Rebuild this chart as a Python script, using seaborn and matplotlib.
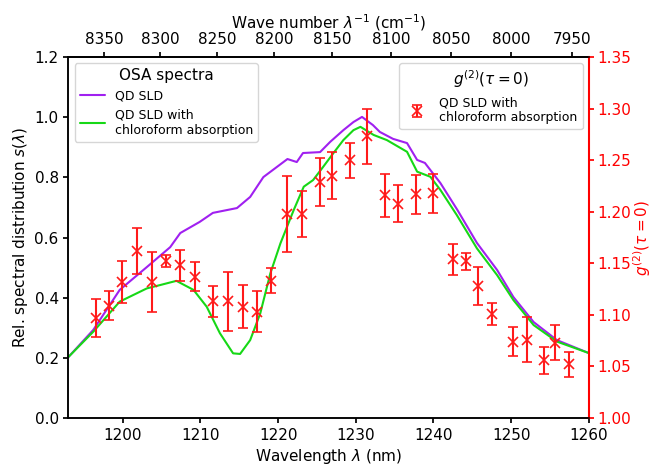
import numpy as np
import pandas as pd
import matplotlib
matplotlib.use("Agg")
import matplotlib.pyplot as plt
import seaborn as sns

# OSA spectra (wavelength in nm, relative intensity)
sld_wl = [1193.0, 1196.2, 1199.6, 1203.1, 1206.1, 1207.4, 1209.9, 1211.6, 1214.7,
          1216.4, 1218.1, 1221.2, 1222.4, 1223.2, 1225.4, 1226.7, 1228.4, 1229.7,
          1230.8, 1232.2, 1233.1, 1234.8, 1236.6, 1237.9, 1238.9, 1240.9, 1243.1,
          1245.6, 1248.2, 1250.3, 1252.9, 1255.9, 1260.0]
sld_s = [0.203, 0.293, 0.426, 0.502, 0.568, 0.615, 0.652, 0.682, 0.698,
         0.735, 0.801, 0.861, 0.851, 0.881, 0.884, 0.918, 0.957, 0.984,
         1.001, 0.974, 0.951, 0.928, 0.914, 0.858, 0.848, 0.781, 0.691,
         0.582, 0.492, 0.402, 0.319, 0.259, 0.216]

chl_wl = [1193.0, 1196.2, 1199.6, 1203.1, 1204.8, 1206.9, 1209.1, 1210.8, 1212.5,
          1214.2, 1215.1, 1216.4, 1217.7, 1219.0, 1220.3, 1222.0, 1223.3, 1224.5,
          1225.8, 1227.1, 1228.4, 1229.7, 1230.6, 1232.3, 1234.0, 1236.6, 1237.9,
          1239.6, 1240.9, 1243.0, 1245.6, 1248.2, 1250.3, 1252.9, 1255.9, 1260.0]
chl_s = [0.203, 0.287, 0.387, 0.431, 0.442, 0.456, 0.426, 0.370, 0.282,
         0.215, 0.213, 0.259, 0.348, 0.481, 0.581, 0.691, 0.769, 0.791,
         0.835, 0.880, 0.924, 0.957, 0.968, 0.941, 0.924, 0.885, 0.819,
         0.802, 0.758, 0.675, 0.564, 0.475, 0.392, 0.309, 0.254, 0.216]

# g2(tau=0) measurements
g2_wl = [1196.5, 1198.2, 1199.9, 1201.8, 1203.7, 1205.6, 1207.4, 1209.3, 1211.6,
         1213.5, 1215.5, 1217.3, 1219.1, 1221.2, 1223.1, 1225.4, 1227.0, 1229.2,
         1231.4, 1233.8, 1235.5, 1237.7, 1240.0, 1242.5, 1244.2, 1245.7, 1247.5,
         1250.2, 1252.0, 1254.2, 1255.7, 1257.5]
g2_val = [1.097, 1.109, 1.132, 1.162, 1.132, 1.152, 1.148, 1.137, 1.113,
          1.113, 1.108, 1.103, 1.133, 1.198, 1.198, 1.229, 1.235, 1.250,
          1.273, 1.216, 1.208, 1.217, 1.218, 1.154, 1.152, 1.128, 1.101,
          1.074, 1.076, 1.056, 1.073, 1.052]
g2_err = [0.018, 0.014, 0.020, 0.022, 0.029, 0.006, 0.015, 0.014, 0.015,
          0.029, 0.021, 0.020, 0.012, 0.037, 0.022, 0.023, 0.023, 0.017,
          0.027, 0.021, 0.018, 0.019, 0.019, 0.015, 0.008, 0.018, 0.011,
          0.014, 0.022, 0.013, 0.017, 0.012]

top_ticks = [8350, 8300, 8250, 8200, 8150, 8100, 8050, 8000, 7950]

sns.set_theme(style="ticks", context="notebook",
              rc={'xtick.major.pad': 3.5, 'ytick.major.pad': 3.5,
                  'xtick.major.size': 3.5, 'ytick.major.size': 3.5,
                  'axes.labelpad': 3, 'axes.linewidth': 1.1,
                  'text.color': 'black', 'axes.labelcolor': 'black',
                  'xtick.color': 'black', 'ytick.color': 'black',
                  'axes.edgecolor': 'black'})
plt.rcParams['font.family'] = ['DejaVu Sans']

purple = '#a020f0'
green = '#16d816'

fig = plt.figure(figsize=(6.52, 4.70), dpi=100)
ax = fig.add_axes([0.105, 0.1106, 0.798, 0.768])

sns.lineplot(x=sld_wl, y=sld_s, ax=ax, color=purple, lw=1.5, sort=False, label='QD SLD')
sns.lineplot(x=chl_wl, y=chl_s, ax=ax, color=green, lw=1.5, sort=False,
             label='QD SLD with\nchloroform absorption')
ax.set_xlim(1193, 1260)
ax.set_ylim(0, 1.2)
ax.set_yticks(np.arange(0, 1.21, 0.2))
ax.set_xlabel(r'Wavelength $\lambda$ (nm)', fontsize=11)
ax.set_ylabel(r'Rel. spectral distribution $s(\lambda)$', fontsize=11)
ax.tick_params(labelsize=11)
leg1 = ax.legend(loc='upper left', title='OSA spectra', fontsize=9, title_fontsize=11)

# top axis: wave number
f = lambda x: 1e7 / x
top = ax.secondary_xaxis('top', functions=(f, f))
top.set_xticks(top_ticks)
top.set_xlabel(r'Wave number $\lambda^{-1}$ (cm$^{-1}$)', fontsize=11)
top.tick_params(labelsize=11, pad=3.5, size=3.5)

# right axis: g2
ax2 = ax.twinx()
ax2.errorbar(g2_wl, g2_val, yerr=g2_err, fmt='x', color='#ff1a1a', ms=7, mew=1.2,
             elinewidth=1.5, capsize=3.5, capthick=1.2,
             label='QD SLD with\nchloroform absorption')
ax2.set_ylim(1.0, 1.35)
ax2.set_yticks(np.arange(1.0, 1.351, 0.05))
ax2.set_yticklabels([f'{v:.2f}' for v in np.arange(1.0, 1.351, 0.05)])
ax2.set_ylabel(r'$g^{(2)}(\tau=0)$', color='red', fontsize=11, labelpad=0)
ax2.tick_params(axis='y', colors='red', labelsize=11, pad=3, size=3.5)
ax2.spines['right'].set_color('red')
ax2.spines['right'].set_linewidth(1.5)
ax2.legend(loc='upper right', title=r'$g^{(2)}(\tau=0)$', fontsize=9, title_fontsize=11)

fig.savefig('out.png', dpi=100)
